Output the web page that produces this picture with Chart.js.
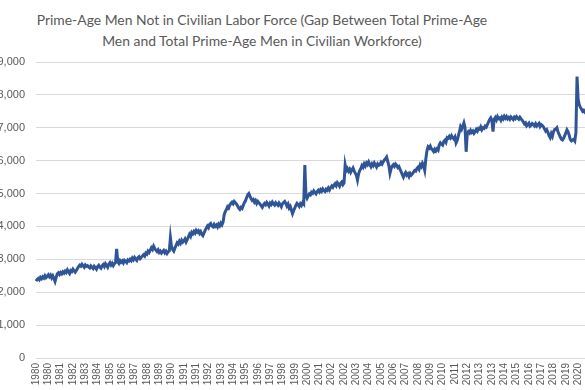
<!DOCTYPE html>
<html>
<head>
<meta charset="utf-8">
<script src="https://cdn.jsdelivr.net/npm/chart.js@4"></script>
<style>
  html, body { margin: 0; padding: 0; background: #fff; overflow: hidden; }
  body { width: 585px; height: 390px; position: relative; }
  #title {
    position: absolute; left: 0; top: 9px; width: 524px;
    text-align: center; color: #595959;
    font-family: Lato, sans-serif;
    font-size: 13.9px; line-height: 21px;
  }
  #wrap { position: absolute; left: -9px; top: 0; }
</style>
</head>
<body>
<div id="title">Prime-Age Men Not in Civilian Labor Force (Gap Between Total Prime-Age<br>Men and Total Prime-Age Men in Civilian Workforce)</div>
<div id="wrap"><canvas id="chart" width="612" height="390"></canvas></div>
<script>
// monthly series, Jan 1980 - Dec 2020, one row per year
const startYear = 1980;
const endYear = 2020;
const tickEvery = 11; // axis shows every 11th month, like the original

const values1980s = [
  2340, 2390, 2420, 2380, 2450, 2410, 2470, 2430, 2500, 2440, 2480, 2530,
  2470, 2520, 2440, 2500, 2420, 2330, 2450, 2560, 2590, 2540, 2600, 2560,
  2620, 2580, 2640, 2600, 2680, 2620, 2570, 2660, 2630, 2700, 2650, 2610,
  2660, 2720, 2780, 2820, 2790, 2850, 2800, 2760, 2830, 2790, 2810, 2770,
  2740, 2800, 2760, 2720, 2790, 2750, 2700, 2780, 2820, 2760, 2730, 2800,
  2840, 2780, 2870, 2820, 2760, 2850, 2900, 2830, 2880, 2810, 2870, 2900,
  3320, 2930, 2880, 2960, 2910, 2950, 2890, 2970, 2940, 2900, 2980, 2950,
  3000, 2960, 3040, 2990, 3060, 3010, 2970, 3050, 3080, 3020, 3060, 3100,
  3140, 3100, 3190, 3160, 3250, 3210, 3280, 3350, 3300, 3400, 3330, 3280,
  3240, 3290, 3210, 3250, 3190, 3230, 3270, 3200, 3250, 3180, 3230, 3260
];
const values1990s = [
  3660, 3380, 3300, 3250, 3340, 3420, 3500, 3460, 3550, 3490, 3580, 3520,
  3560, 3620, 3530, 3600, 3680, 3760, 3700, 3820, 3780, 3850, 3800, 3880,
  3830, 3870, 3790, 3840, 3760, 3720, 3800, 3880, 3950, 4010, 3960, 4060,
  4090, 4020, 3990, 4060, 4000, 4040, 3980, 4070, 4020, 4100, 4050, 4130,
  4360, 4450, 4520, 4600, 4560, 4650, 4700, 4740, 4690, 4760, 4720, 4680,
  4620, 4560, 4520, 4580, 4550, 4640, 4720, 4780, 4870, 4960, 5000, 4920,
  4850, 4790, 4820, 4740, 4790, 4700, 4760, 4720, 4680, 4630, 4580, 4650,
  4700, 4660, 4730, 4680, 4620, 4710, 4670, 4740, 4690, 4650, 4720, 4680,
  4640, 4710, 4660, 4600, 4690, 4730, 4760, 4700, 4620, 4680, 4560, 4610,
  4500, 4390, 4480, 4560, 4640, 4700, 4660, 4610, 4690, 4640, 4720, 4680
];
const values2000s = [
  5870, 4950, 4860, 4930, 4990, 4960, 5040, 5010, 5080, 5030, 4990, 5060,
  5100, 5050, 5120, 5070, 5140, 5090, 5060, 5130, 5100, 5170, 5110, 5180,
  5230, 5190, 5260, 5300, 5240, 5330, 5280, 5220, 5310, 5350, 5270, 5320,
  5870, 5700, 5760, 5680, 5740, 5650, 5720, 5780, 5690, 5620, 5560, 5410,
  5600, 5700, 5760, 5850, 5800, 5900, 5840, 5930, 5880, 5960, 5890, 5820,
  5900, 5850, 5930, 5870, 5810, 5900, 5860, 5880, 5950, 5900, 5970, 6020,
  6060, 6110, 5980, 5850, 5620, 5760, 5840, 5880, 5830, 5900, 5860, 5790,
  5820, 5740, 5660, 5580, 5500, 5580, 5640, 5560, 5600, 5520, 5610, 5560,
  5600, 5650, 5700, 5680, 5760, 5800, 5740, 5870, 5820, 5920, 5850, 5710,
  6050, 6300, 6420, 6380, 6440, 6360, 6330, 6280, 6350, 6300, 6360, 6320
];
const values2010s = [
  6480, 6540, 6500, 6470, 6580, 6620, 6560, 6700, 6680, 6740, 6690, 6760,
  6700, 6660, 6720, 6540, 6610, 6750, 6880, 7030, 6960, 7050, 7150, 7010,
  6270, 6820, 6880, 6840, 6920, 6860, 6900, 6830, 6880, 6950, 6900, 6980,
  6960, 7030, 6940, 7000, 6980, 7050, 7020, 7100, 7180, 7250, 7300, 7220,
  6880, 7260, 7310, 7240, 7340, 7280, 7300, 7230, 7320, 7270, 7350, 7290,
  7340, 7270, 7310, 7260, 7330, 7290, 7250, 7320, 7280, 7340, 7300, 7260,
  7320, 7270, 7230, 7180, 7120, 7150, 7060, 7100, 7140, 7050, 7080, 7130,
  7100, 7060, 7120, 7050, 7090, 7130, 7040, 7100, 7070, 7030, 6960, 6900,
  6940, 6860, 6760, 6700, 6820, 6740, 6880, 6950, 6960, 7000, 6880, 6800,
  6720, 6650, 6630, 6680, 6760, 6850, 6940, 6880, 6770, 6640, 6600, 6630
];
const values2020 = [
  6650, 6600, 6850, 8560, 7860, 7700, 7620, 7560, 7500, 7530, 7480, 7520
];

const menNotInLaborForce = values1980s.concat(values1990s, values2000s, values2010s, values2020);

// one category per month, labelled with its year
const monthLabels = [];
for (let y = startYear; y <= endYear; y++) {
  for (let m = 0; m < 12; m++) monthLabels.push(String(y));
}

const grey = '#595959';
const tickFont = { family: "'Liberation Sans', Arial, sans-serif", size: 11 };

const ctx = document.getElementById('chart').getContext('2d');
new Chart(ctx, {
  type: 'line',
  data: {
    labels: monthLabels,
    datasets: [{
      data: menNotInLaborForce,
      borderColor: '#2F5597',
      borderWidth: 3,
      pointRadius: 0,
      tension: 0,
      fill: false
    }]
  },
  options: {
    responsive: false,
    animation: false,
    layout: { padding: { top: 62, right: 0, bottom: 0, left: 0 } },
    plugins: {
      legend: { display: false },
      tooltip: { enabled: false }
    },
    scales: {
      x: {
        grid: { display: false, drawTicks: false },
        border: { display: false },
        ticks: {
          autoSkip: false,
          minRotation: 90,
          maxRotation: 90,
          padding: 5,
          color: grey,
          font: { family: tickFont.family, size: 10 },
          callback: (v, i) => (i % tickEvery === 0 ? monthLabels[i] : '')
        },
        afterFit: (s) => { s.height = 32; }
      },
      y: {
        min: 0,
        max: 9000,
        grid: { color: '#D9D9D9', drawTicks: false },
        border: { display: false },
        ticks: {
          stepSize: 1000,
          padding: 11,
          color: grey,
          font: tickFont,
          callback: (v) => v.toLocaleString('en-US')
        },
        afterFit: (s) => { s.width = 45; }
      }
    }
  }
});
</script>
</body>
</html>
